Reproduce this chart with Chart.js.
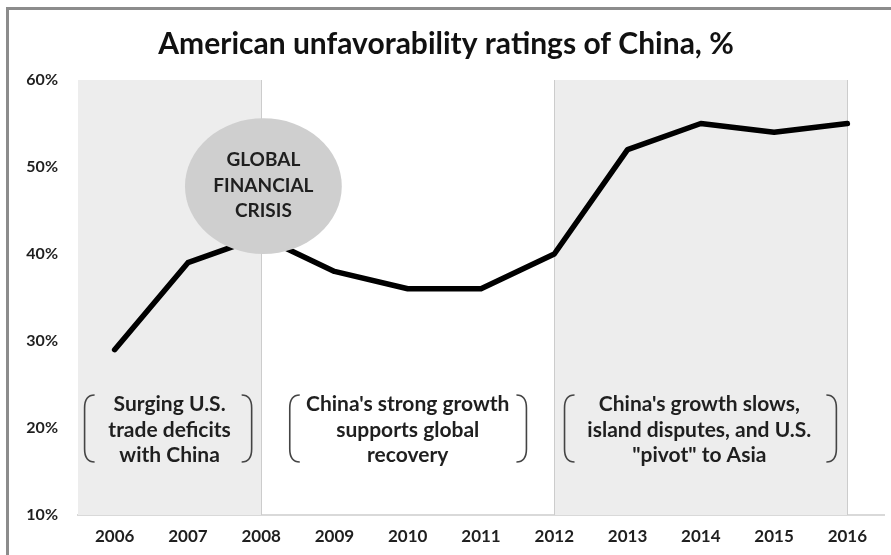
<!DOCTYPE html>
<html>
<head>
<meta charset="utf-8">
<script src="https://cdn.jsdelivr.net/npm/chart.js@4.4.1/dist/chart.umd.min.js"></script>
<style>
  html, body { margin: 0; padding: 0; background: #fff; }
  #wrap { position: relative; width: 891px; height: 555px; }
</style>
</head>
<body>
<div id="wrap"><canvas id="chinaChart" width="891" height="555"></canvas></div>
<script>
// data
const years = ['2006', '2007', '2008', '2009', '2010', '2011', '2012', '2013', '2014', '2015', '2016'];
const unfavorable = [29, 39, 42, 38, 36, 36, 40, 52, 55, 54, 55];
const yTicks = [10, 20, 30, 40, 50, 60];
const titleText = 'American unfavorability ratings of China, %';
const crisisLabel = ['GLOBAL', 'FINANCIAL', 'CRISIS'];
const periodLabels = [
    ['Surging U.S.', 'trade deficits', 'with China'],
    ["China's strong growth", 'supports global', 'recovery'],
    ["China's growth slows,", 'island disputes, and U.S.', '"pivot" to Asia']
];

const FONT = 'Lato, "Open Sans", sans-serif';

/*===== background bands, frame, title =====*/
const bandsPlugin = {
    id: 'bands',
    beforeDatasetsDraw(chart) {
        const {ctx, chartArea, scales: {x, y}} = chart;
        const top = y.getPixelForValue(60), bottom = y.getPixelForValue(10);
        ctx.save();
        // frame
        ctx.fillStyle = '#8c8c8c';
        ctx.fillRect(6, 7, chart.width - 6, 3);
        ctx.fillRect(6, 7, 3, chart.height - 7);
        // shaded periods
        ctx.fillStyle = '#ededed';
        const x0 = chartArea.left, x1 = x.getPixelForValue(2);
        const x2 = x.getPixelForValue(6), x3 = x.getPixelForValue(10);
        ctx.fillRect(x0, top, x1 - x0, bottom - top);
        ctx.fillRect(x2, top, x3 - x2, bottom - top);
        ctx.strokeStyle = '#cccccc';
        ctx.lineWidth = 1;
        [x1, x2, x3].forEach(px => {
            ctx.beginPath();
            ctx.moveTo(Math.round(px) + 0.5, top);
            ctx.lineTo(Math.round(px) + 0.5, bottom);
            ctx.stroke();
        });
        // title
        ctx.fillStyle = '#111';
        ctx.font = 'bold 30px ' + FONT;
        ctx.textAlign = 'center';
        ctx.textBaseline = 'middle';
        ctx.fillText(titleText, 446, 44);
        ctx.restore();
    }
};

/*===== bracket notes + crisis bubble =====*/
function bracket(ctx, xp, top, bottom, dir) {
    const hook = 10 * dir, r = 13;
    ctx.beginPath();
    ctx.moveTo(xp + hook, top);
    ctx.quadraticCurveTo(xp, top, xp, top + r);
    ctx.lineTo(xp, bottom - r);
    ctx.quadraticCurveTo(xp, bottom, xp + hook, bottom);
    ctx.stroke();
}

const notesPlugin = {
    id: 'notes',
    afterDatasetsDraw(chart) {
        const {ctx, scales: {x, y}} = chart;
        const step = x.getPixelForValue(1) - x.getPixelForValue(0);
        const xAt = i => x.getPixelForValue(0) + i * step;
        ctx.save();

        // crisis bubble
        const cx = xAt(2.03), cy = y.getPixelForValue(47.8);
        const rx = step * 1.07, ry = y.getPixelForValue(40) - y.getPixelForValue(47.8);
        ctx.fillStyle = '#cfcfcf';
        ctx.beginPath();
        ctx.ellipse(cx, cy, rx, ry, 0, 0, Math.PI * 2);
        ctx.fill();
        ctx.fillStyle = '#1f1f1f';
        ctx.font = 'bold 19px ' + FONT;
        ctx.textAlign = 'center';
        ctx.textBaseline = 'middle';
        crisisLabel.forEach((t, i) => ctx.fillText(t, cx, cy - 26 + i * 25.5));

        // period notes
        const notes = [
            {c: 0.75, l: -0.41, r: 1.87},
            {c: 4.0, l: 2.39, r: 5.62},
            {c: 7.98, l: 6.14, r: 9.85}
        ];
        const lineY = [22.7, 19.8, 16.9].map(v => y.getPixelForValue(v));
        const bTop = y.getPixelForValue(23.8), bBot = y.getPixelForValue(16.1);
        ctx.font = 'bold 21px ' + FONT;
        ctx.strokeStyle = '#444';
        ctx.lineWidth = 1.6;
        notes.forEach((n, k) => {
            periodLabels[k].forEach((t, i) => ctx.fillText(t, xAt(n.c), lineY[i]));
            bracket(ctx, xAt(n.l), bTop, bBot, 1);
            bracket(ctx, xAt(n.r), bTop, bBot, -1);
        });
        ctx.restore();
    }
};

const ctx = document.getElementById('chinaChart').getContext('2d');
const chinaChart = new Chart(ctx, {
    type: 'line',
    data: {
        labels: years,
        datasets: [{
            label: 'Unfavorable',
            data: unfavorable,
            borderColor: '#000',
            borderWidth: 5.5,
            pointRadius: 0,
            tension: 0,
            borderJoinStyle: 'round',
            borderCapStyle: 'round'
        }]
    },
    options: {
        responsive: false,
        animation: false,
        layout: { padding: { left: 10, top: 80, right: 7, bottom: 0 } },
        plugins: {
            legend: { display: false },
            tooltip: { enabled: false }
        },
        scales: {
            x: {
                offset: true,
                grid: { display: false, drawTicks: false },
                border: { display: true, color: '#d9d9d9', width: 2 },
                ticks: {
                    color: '#1f1f1f',
                    padding: 11,
                    font: { family: FONT, size: 17, weight: 'bold' }
                },
                afterFit(scale) { scale.height = 40; }
            },
            y: {
                min: 10,
                max: 60,
                afterBuildTicks(scale) { scale.ticks = yTicks.map(v => ({value: v})); },
                grid: { display: false, drawTicks: false },
                border: { display: false },
                ticks: {
                    color: '#1f1f1f',
                    padding: 20,
                    font: { family: FONT, size: 16, weight: 'bold' },
                    callback: v => v + '%'
                },
                afterFit(scale) { scale.width = 68; }
            }
        }
    },
    plugins: [bandsPlugin, notesPlugin]
});
</script>
</body>
</html>
